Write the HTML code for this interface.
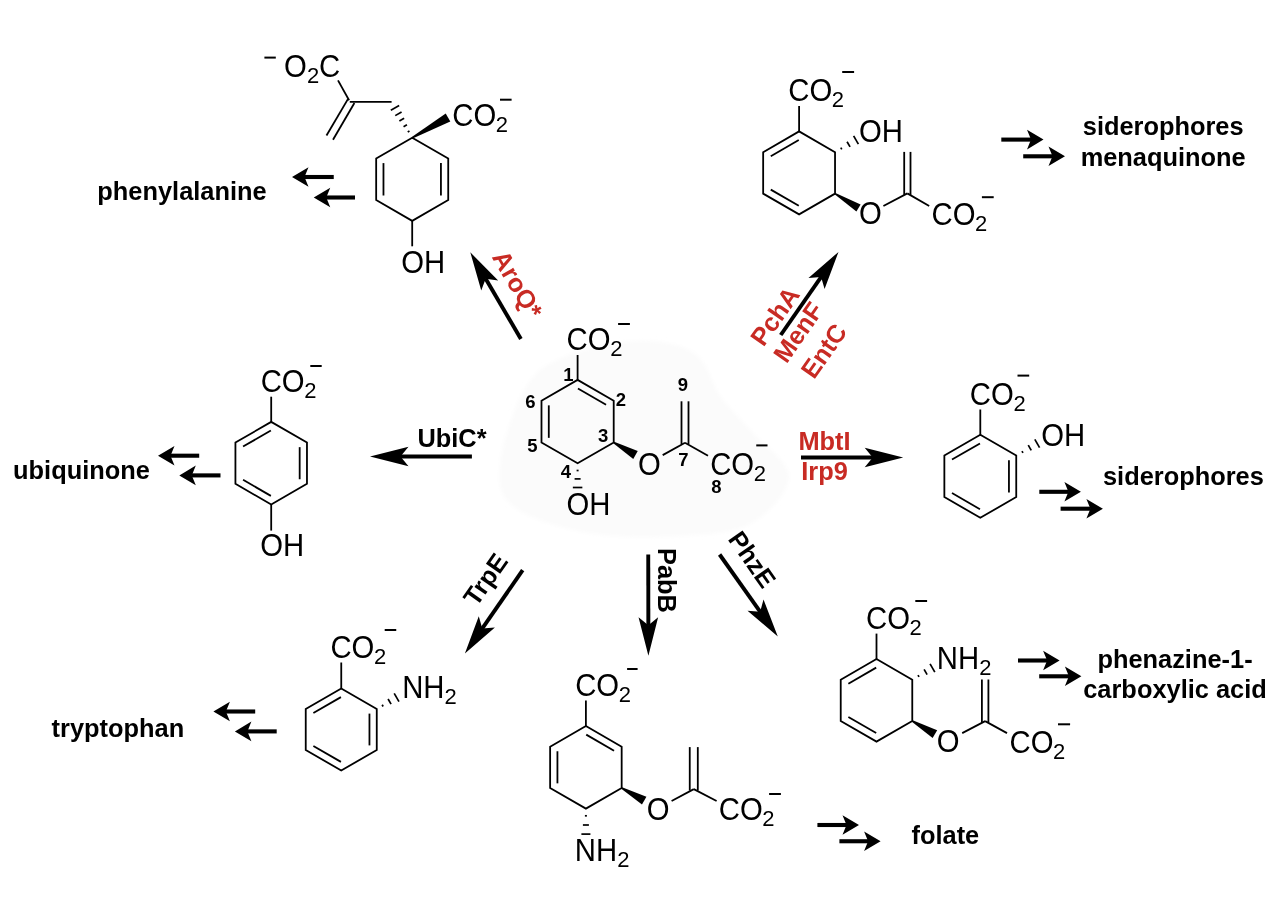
<!DOCTYPE html>
<html><head><meta charset="utf-8"><style>
html,body{margin:0;padding:0;background:#fff;}
svg{display:block;font-family:"Liberation Sans",sans-serif;will-change:transform;}
</style></head><body>
<svg width="1280" height="914" viewBox="0 0 1280 914">
<defs><filter id="bl" x="-30%" y="-30%" width="160%" height="160%"><feGaussianBlur stdDeviation="2"/></filter></defs>
<rect width="1280" height="914" fill="#fff"/>
<path d="M635,341 C657.5,340 679.67,343.67 694,353 C708.33,362.33 711.17,383.67 721,397 C730.83,410.33 741.67,419.67 753,433 C764.33,446.33 789.5,461.83 789,477 C788.5,492.17 768.67,514.17 750,524 C731.33,533.83 704,534.5 677,536 C650,537.5 615.17,537.83 588,533 C560.83,528.17 528.67,518.33 514,507 C499.33,495.67 498.5,484.17 500,465 C501.5,445.83 513.17,409.67 523,392 C532.83,374.33 540.33,367.5 559,359 C577.67,350.5 612.5,342 635,341Z" fill="#fbfbfb" filter="url(#bl)"/>
<path d="M577.6,379.9 L613.71,400.75 L613.71,442.45 L577.6,463.3 L541.49,442.45 L541.49,400.75 Z" fill="none" stroke="#000" stroke-width="1.8" stroke-linejoin="miter"/>
<line x1="577.93" y1="388.52" x2="606.08" y2="404.77" stroke="#000" stroke-width="1.8" stroke-linecap="butt"/>
<line x1="548.79" y1="437.85" x2="548.79" y2="405.35" stroke="#000" stroke-width="1.8" stroke-linecap="butt"/>
<line x1="577.6" y1="379.9" x2="577.6" y2="355" stroke="#000" stroke-width="1.8" stroke-linecap="butt"/>
<text transform="translate(566.61 350.3) scale(1 1.07)" font-size="29.3" fill="#000">CO</text>
<text x="610.17" y="356.3" font-size="22" fill="#000">2</text>
<line x1="618.1" y1="324" x2="629.9" y2="324" stroke="#000" stroke-width="2" stroke-linecap="butt"/>
<text x="563.26" y="380.5" font-size="18.5" font-weight="bold" fill="#000">1</text>
<text x="615.76" y="405.5" font-size="18.5" font-weight="bold" fill="#000">2</text>
<text x="598.06" y="441.5" font-size="18.5" font-weight="bold" fill="#000">3</text>
<text x="560.66" y="477.6" font-size="18.5" font-weight="bold" fill="#000">4</text>
<text x="527.16" y="452" font-size="18.5" font-weight="bold" fill="#000">5</text>
<text x="525.16" y="408.1" font-size="18.5" font-weight="bold" fill="#000">6</text>
<text x="678.26" y="466" font-size="18.5" font-weight="bold" fill="#000">7</text>
<text x="711.26" y="492.5" font-size="18.5" font-weight="bold" fill="#000">8</text>
<text x="677.66" y="391" font-size="18.5" font-weight="bold" fill="#000">9</text>
<polygon points="613.31,443.14 633.25,458.9 637.75,451.1 614.11,441.76" fill="#000"/>
<text transform="translate(638.08 474.5) scale(1 1.07)" font-size="29.3" fill="#000">O</text>
<line x1="662.7" y1="455.1" x2="685" y2="442.7" stroke="#000" stroke-width="1.8" stroke-linecap="butt"/>
<line x1="681.5" y1="444" x2="681.5" y2="401.3" stroke="#000" stroke-width="1.8" stroke-linecap="butt"/>
<line x1="688.5" y1="444" x2="688.5" y2="401.3" stroke="#000" stroke-width="1.8" stroke-linecap="butt"/>
<line x1="685" y1="442.7" x2="708" y2="455.8" stroke="#000" stroke-width="1.8" stroke-linecap="butt"/>
<text transform="translate(710.13 474.6) scale(1 1.07)" font-size="29.3" fill="#000">CO</text>
<text x="753.7" y="480.6" font-size="22" fill="#000">2</text>
<line x1="756.25" y1="445.4" x2="767.5" y2="445.4" stroke="#000" stroke-width="2" stroke-linecap="butt"/>
<line x1="576.6" y1="470.5" x2="578.6" y2="470.5" stroke="#000" stroke-width="1.7" stroke-linecap="butt"/>
<line x1="574.6" y1="478.9" x2="580.6" y2="478.9" stroke="#000" stroke-width="1.7" stroke-linecap="butt"/>
<line x1="572.85" y1="487.5" x2="582.35" y2="487.5" stroke="#000" stroke-width="1.7" stroke-linecap="butt"/>
<text transform="translate(566.58 515.3) scale(1 1.07)" font-size="29.3" fill="#000">OH</text>
<path d="M412.2,137.7 L448.23,158.5 L448.23,200.1 L412.2,220.9 L376.17,200.1 L376.17,158.5 Z" fill="none" stroke="#000" stroke-width="1.8" stroke-linejoin="miter"/>
<line x1="440.93" y1="163.1" x2="440.93" y2="195.5" stroke="#000" stroke-width="1.8" stroke-linecap="butt"/>
<line x1="383.47" y1="195.5" x2="383.47" y2="163.1" stroke="#000" stroke-width="1.8" stroke-linecap="butt"/>
<line x1="412.2" y1="220.9" x2="412.2" y2="246.3" stroke="#000" stroke-width="1.8" stroke-linecap="butt"/>
<text transform="translate(401.28 272.6) scale(1 1.07)" font-size="29.3" fill="#000">OH</text>
<polygon points="412.59,138.4 450.29,121.5 445.71,113.4 411.81,137" fill="#000"/>
<text transform="translate(452.29 125.5) scale(1 1.07)" font-size="29.3" fill="#000">CO</text>
<text x="495.85" y="131.5" font-size="22" fill="#000">2</text>
<line x1="500" y1="99.7" x2="511.6" y2="99.7" stroke="#000" stroke-width="2" stroke-linecap="butt"/>
<line x1="409.47" y1="130.96" x2="407.73" y2="131.96" stroke="#000" stroke-width="1.7" stroke-linecap="butt"/>
<line x1="406.94" y1="124.69" x2="403.56" y2="126.64" stroke="#000" stroke-width="1.7" stroke-linecap="butt"/>
<line x1="404.13" y1="118.23" x2="399.37" y2="120.98" stroke="#000" stroke-width="1.7" stroke-linecap="butt"/>
<line x1="401.56" y1="111.97" x2="395.24" y2="115.62" stroke="#000" stroke-width="1.7" stroke-linecap="butt"/>
<line x1="399.16" y1="105.51" x2="390.84" y2="110.31" stroke="#000" stroke-width="1.7" stroke-linecap="butt"/>
<line x1="391.6" y1="101.8" x2="349.8" y2="101.8" stroke="#000" stroke-width="1.8" stroke-linecap="butt"/>
<line x1="349.1" y1="100.3" x2="338" y2="80.4" stroke="#000" stroke-width="1.8" stroke-linecap="butt"/>
<line x1="347.9" y1="99.1" x2="326.5" y2="135.5" stroke="#000" stroke-width="1.8" stroke-linecap="butt"/>
<line x1="354.4" y1="103" x2="333" y2="139.7" stroke="#000" stroke-width="1.8" stroke-linecap="butt"/>
<text transform="translate(284.08 77.4) scale(1 1.07)" font-size="29.3" fill="#000">O</text>
<text x="306.88" y="83.4" font-size="22" fill="#000">2</text>
<text transform="translate(319.11 77.4) scale(1 1.07)" font-size="29.3" fill="#000">C</text>
<line x1="264.4" y1="57.6" x2="275.8" y2="57.6" stroke="#000" stroke-width="2" stroke-linecap="butt"/>
<text x="97.35" y="199.7" font-size="25.4" font-weight="bold" fill="#000">phenylalanine</text>
<line x1="333.75" y1="177" x2="304" y2="177" stroke="#000" stroke-width="4.1" stroke-linecap="butt"/>
<polygon points="292,177 308.5,167.2 304.5,177 308.5,186.8" fill="#000"/>
<line x1="355" y1="197.5" x2="325.75" y2="197.5" stroke="#000" stroke-width="4.1" stroke-linecap="butt"/>
<polygon points="313.75,197.5 330.25,187.7 326.25,197.5 330.25,207.3" fill="#000"/>
<line x1="520.9" y1="339" x2="485.42" y2="278.21" stroke="#000" stroke-width="3.9" stroke-linecap="butt"/>
<polygon points="470.3,252.3 498.17,280.61 485.67,278.64 481.24,290.49" fill="#000"/>
<text x="517.8" y="284.2" dy="0.36em" font-size="25.4" font-weight="bold" fill="#c82b24" text-anchor="middle" transform="rotate(60 517.8 284.2)">AroQ*</text>
<path d="M799.1,131.4 L835.04,152.15 L835.04,193.65 L799.1,214.4 L763.16,193.65 L763.16,152.15 Z" fill="none" stroke="#000" stroke-width="1.8" stroke-linejoin="miter"/>
<line x1="770.79" y1="156.17" x2="798.77" y2="140.02" stroke="#000" stroke-width="1.8" stroke-linecap="butt"/>
<line x1="798.77" y1="205.78" x2="770.79" y2="189.63" stroke="#000" stroke-width="1.8" stroke-linecap="butt"/>
<line x1="799.1" y1="131.4" x2="799.1" y2="106.1" stroke="#000" stroke-width="1.8" stroke-linecap="butt"/>
<text transform="translate(788.24 100.95) scale(1 1.07)" font-size="29.3" fill="#000">CO</text>
<text x="831.8" y="106.95" font-size="22" fill="#000">2</text>
<line x1="842.2" y1="72" x2="854.1" y2="72" stroke="#000" stroke-width="2" stroke-linecap="butt"/>
<line x1="841.78" y1="149.42" x2="840.78" y2="147.68" stroke="#000" stroke-width="1.7" stroke-linecap="butt"/>
<line x1="850.05" y1="146.95" x2="847.05" y2="141.75" stroke="#000" stroke-width="1.7" stroke-linecap="butt"/>
<line x1="858.37" y1="144.16" x2="853.62" y2="135.94" stroke="#000" stroke-width="1.7" stroke-linecap="butt"/>
<text transform="translate(858.88 142) scale(1 1.07)" font-size="29.3" fill="#000">OH</text>
<polygon points="834.62,194.33 856.41,211.41 860.59,204.59 835.46,192.97" fill="#000"/>
<text transform="translate(858.88 224.1) scale(1 1.07)" font-size="29.3" fill="#000">O</text>
<line x1="883.4" y1="206" x2="907.35" y2="193.4" stroke="#000" stroke-width="1.8" stroke-linecap="butt"/>
<line x1="904.2" y1="194.8" x2="904.2" y2="151.9" stroke="#000" stroke-width="1.8" stroke-linecap="butt"/>
<line x1="910.5" y1="194.8" x2="910.5" y2="151.9" stroke="#000" stroke-width="1.8" stroke-linecap="butt"/>
<line x1="907.35" y1="193.4" x2="929.2" y2="206" stroke="#000" stroke-width="1.8" stroke-linecap="butt"/>
<text transform="translate(931.53 225.3) scale(1 1.07)" font-size="29.3" fill="#000">CO</text>
<text x="975.1" y="231.3" font-size="22" fill="#000">2</text>
<line x1="981.9" y1="197.2" x2="993.7" y2="197.2" stroke="#000" stroke-width="2" stroke-linecap="butt"/>
<text x="1163.2" y="135" font-size="25.4" font-weight="bold" fill="#000" text-anchor="middle">siderophores</text>
<text x="1163.2" y="165.6" font-size="25.4" font-weight="bold" fill="#000" text-anchor="middle">menaquinone</text>
<line x1="1001.3" y1="139.6" x2="1031.5" y2="139.6" stroke="#000" stroke-width="4.1" stroke-linecap="butt"/>
<polygon points="1043.5,139.6 1027,149.4 1031,139.6 1027,129.8" fill="#000"/>
<line x1="1023.2" y1="156.3" x2="1053" y2="156.3" stroke="#000" stroke-width="4.1" stroke-linecap="butt"/>
<polygon points="1065,156.3 1048.5,166.1 1052.5,156.3 1048.5,146.5" fill="#000"/>
<line x1="780.75" y1="335" x2="821.38" y2="276.54" stroke="#000" stroke-width="3.9" stroke-linecap="butt"/>
<polygon points="838.5,251.9 824.58,289.11 821.09,276.95 808.48,277.92" fill="#000"/>
<text x="774.6" y="316" dy="0.36em" font-size="25.4" font-weight="bold" fill="#c82b24" text-anchor="middle" transform="rotate(-55 774.6 316)">PchA</text>
<text x="798" y="332" dy="0.36em" font-size="25.4" font-weight="bold" fill="#c82b24" text-anchor="middle" transform="rotate(-55 798 332)">MenF</text>
<text x="823.6" y="350.75" dy="0.36em" font-size="25.4" font-weight="bold" fill="#c82b24" text-anchor="middle" transform="rotate(-55 823.6 350.75)">EntC</text>
<path d="M271.2,421.9 L306.97,442.55 L306.97,483.85 L271.2,504.5 L235.43,483.85 L235.43,442.55 Z" fill="none" stroke="#000" stroke-width="1.8" stroke-linejoin="miter"/>
<line x1="243.07" y1="446.57" x2="270.87" y2="430.52" stroke="#000" stroke-width="1.8" stroke-linecap="butt"/>
<line x1="299.67" y1="447.15" x2="299.67" y2="479.25" stroke="#000" stroke-width="1.8" stroke-linecap="butt"/>
<line x1="270.87" y1="495.88" x2="243.07" y2="479.83" stroke="#000" stroke-width="1.8" stroke-linecap="butt"/>
<line x1="271.2" y1="421.9" x2="271.2" y2="396.7" stroke="#000" stroke-width="1.8" stroke-linecap="butt"/>
<text transform="translate(260.64 391.9) scale(1 1.07)" font-size="29.3" fill="#000">CO</text>
<text x="304.2" y="397.9" font-size="22" fill="#000">2</text>
<line x1="310.3" y1="366" x2="321.7" y2="366" stroke="#000" stroke-width="2" stroke-linecap="butt"/>
<line x1="271.2" y1="504.5" x2="271.2" y2="530.6" stroke="#000" stroke-width="1.8" stroke-linecap="butt"/>
<text transform="translate(260.28 556.3) scale(1 1.07)" font-size="29.3" fill="#000">OH</text>
<text x="417.48" y="446.5" font-size="25.4" font-weight="bold" fill="#000">UbiC*</text>
<line x1="471.9" y1="456.5" x2="400" y2="456.5" stroke="#000" stroke-width="3.9" stroke-linecap="butt"/>
<polygon points="370,456.5 408.5,446.7 400.5,456.5 408.5,466.3" fill="#000"/>
<text x="13.08" y="479.3" font-size="25.4" font-weight="bold" fill="#000">ubiquinone</text>
<line x1="199.2" y1="455.7" x2="170" y2="455.7" stroke="#000" stroke-width="4.1" stroke-linecap="butt"/>
<polygon points="158,455.7 174.5,445.9 170.5,455.7 174.5,465.5" fill="#000"/>
<line x1="220.5" y1="475.4" x2="191.3" y2="475.4" stroke="#000" stroke-width="4.1" stroke-linecap="butt"/>
<polygon points="179.3,475.4 195.8,465.6 191.8,475.4 195.8,485.2" fill="#000"/>
<path d="M980.3,434.8 L1016.24,455.55 L1016.24,497.05 L980.3,517.8 L944.36,497.05 L944.36,455.55 Z" fill="none" stroke="#000" stroke-width="1.8" stroke-linejoin="miter"/>
<line x1="951.99" y1="459.57" x2="979.97" y2="443.42" stroke="#000" stroke-width="1.8" stroke-linecap="butt"/>
<line x1="1008.94" y1="460.15" x2="1008.94" y2="492.45" stroke="#000" stroke-width="1.8" stroke-linecap="butt"/>
<line x1="979.97" y1="509.18" x2="951.99" y2="493.03" stroke="#000" stroke-width="1.8" stroke-linecap="butt"/>
<line x1="980.3" y1="434.8" x2="980.3" y2="409.5" stroke="#000" stroke-width="1.8" stroke-linecap="butt"/>
<text transform="translate(969.83 404.5) scale(1 1.07)" font-size="29.3" fill="#000">CO</text>
<text x="1013.4" y="410.5" font-size="22" fill="#000">2</text>
<line x1="1017.5" y1="375.6" x2="1029.2" y2="375.6" stroke="#000" stroke-width="2" stroke-linecap="butt"/>
<line x1="1022.98" y1="452.82" x2="1021.98" y2="451.08" stroke="#000" stroke-width="1.7" stroke-linecap="butt"/>
<line x1="1031.25" y1="450.35" x2="1028.25" y2="445.15" stroke="#000" stroke-width="1.7" stroke-linecap="butt"/>
<line x1="1039.57" y1="447.56" x2="1034.82" y2="439.34" stroke="#000" stroke-width="1.7" stroke-linecap="butt"/>
<text transform="translate(1041.18 446) scale(1 1.07)" font-size="29.3" fill="#000">OH</text>
<text x="798.45" y="449.5" font-size="25.4" font-weight="bold" fill="#c82b24">MbtI</text>
<text x="801.25" y="479.5" font-size="25.4" font-weight="bold" fill="#c82b24">Irp9</text>
<line x1="801" y1="457.5" x2="873.2" y2="457.5" stroke="#000" stroke-width="3.9" stroke-linecap="butt"/>
<polygon points="903.2,457.5 864.7,467.3 872.7,457.5 864.7,447.7" fill="#000"/>
<line x1="1039.3" y1="491.8" x2="1068.9" y2="491.8" stroke="#000" stroke-width="4.1" stroke-linecap="butt"/>
<polygon points="1080.9,491.8 1064.4,501.6 1068.4,491.8 1064.4,482" fill="#000"/>
<line x1="1060.6" y1="508.7" x2="1090.9" y2="508.7" stroke="#000" stroke-width="4.1" stroke-linecap="butt"/>
<polygon points="1102.9,508.7 1086.4,518.5 1090.4,508.7 1086.4,498.9" fill="#000"/>
<text x="1103.01" y="484.7" font-size="25.4" font-weight="bold" fill="#000">siderophores</text>
<path d="M341.25,688.5 L376.76,709 L376.76,750 L341.25,770.5 L305.74,750 L305.74,709 Z" fill="none" stroke="#000" stroke-width="1.8" stroke-linejoin="miter"/>
<line x1="313.38" y1="713.02" x2="340.92" y2="697.12" stroke="#000" stroke-width="1.8" stroke-linecap="butt"/>
<line x1="369.46" y1="713.6" x2="369.46" y2="745.4" stroke="#000" stroke-width="1.8" stroke-linecap="butt"/>
<line x1="340.92" y1="761.88" x2="313.38" y2="745.98" stroke="#000" stroke-width="1.8" stroke-linecap="butt"/>
<line x1="341.25" y1="688.5" x2="341.25" y2="662.5" stroke="#000" stroke-width="1.8" stroke-linecap="butt"/>
<text transform="translate(330.44 657.7) scale(1 1.07)" font-size="29.3" fill="#000">CO</text>
<text x="374" y="663.7" font-size="22" fill="#000">2</text>
<line x1="384.7" y1="630" x2="396.25" y2="630" stroke="#000" stroke-width="2" stroke-linecap="butt"/>
<line x1="383.15" y1="706.47" x2="382.15" y2="704.73" stroke="#000" stroke-width="1.7" stroke-linecap="butt"/>
<line x1="391.07" y1="704.2" x2="388.07" y2="699" stroke="#000" stroke-width="1.7" stroke-linecap="butt"/>
<line x1="398.96" y1="701.66" x2="394.21" y2="693.44" stroke="#000" stroke-width="1.7" stroke-linecap="butt"/>
<text transform="translate(402.16 698) scale(1 1.07)" font-size="29.3" fill="#000">NH</text>
<text x="444.47" y="704.1" font-size="22" fill="#000">2</text>
<line x1="522.7" y1="570.2" x2="481.99" y2="628.94" stroke="#000" stroke-width="3.9" stroke-linecap="butt"/>
<polygon points="464.9,653.6 478.78,616.37 482.27,628.53 494.89,627.54" fill="#000"/>
<text x="485.2" y="579.2" dy="0.36em" font-size="25.4" font-weight="bold" fill="#000" text-anchor="middle" transform="rotate(-55 485.2 579.2)">TrpE</text>
<line x1="255.2" y1="711.5" x2="225.4" y2="711.5" stroke="#000" stroke-width="4.1" stroke-linecap="butt"/>
<polygon points="213.4,711.5 229.9,701.7 225.9,711.5 229.9,721.3" fill="#000"/>
<line x1="276.7" y1="731.4" x2="246.9" y2="731.4" stroke="#000" stroke-width="4.1" stroke-linecap="butt"/>
<polygon points="234.9,731.4 251.4,721.6 247.4,731.4 251.4,741.2" fill="#000"/>
<text x="51.59" y="736.9" font-size="25.4" font-weight="bold" fill="#000">tryptophan</text>
<path d="M585.9,726 L621.67,746.65 L621.67,787.95 L585.9,808.6 L550.13,787.95 L550.13,746.65 Z" fill="none" stroke="#000" stroke-width="1.8" stroke-linejoin="miter"/>
<line x1="586.23" y1="734.62" x2="614.03" y2="750.67" stroke="#000" stroke-width="1.8" stroke-linecap="butt"/>
<line x1="557.43" y1="783.35" x2="557.43" y2="751.25" stroke="#000" stroke-width="1.8" stroke-linecap="butt"/>
<line x1="585.9" y1="726" x2="585.9" y2="700.5" stroke="#000" stroke-width="1.8" stroke-linecap="butt"/>
<text transform="translate(575.13 696.1) scale(1 1.07)" font-size="29.3" fill="#000">CO</text>
<text x="618.7" y="702.1" font-size="22" fill="#000">2</text>
<line x1="627.1" y1="669" x2="637.6" y2="669" stroke="#000" stroke-width="2" stroke-linecap="butt"/>
<polygon points="621.27,788.65 641.98,804.62 646.42,796.78 622.06,787.25" fill="#000"/>
<text transform="translate(646.78 820.2) scale(1 1.07)" font-size="29.3" fill="#000">O</text>
<line x1="671.6" y1="801" x2="693.8" y2="789.1" stroke="#000" stroke-width="1.8" stroke-linecap="butt"/>
<line x1="689.75" y1="790.5" x2="689.75" y2="747.1" stroke="#000" stroke-width="1.8" stroke-linecap="butt"/>
<line x1="697.8" y1="790.5" x2="697.8" y2="747.1" stroke="#000" stroke-width="1.8" stroke-linecap="butt"/>
<line x1="693.8" y1="789.1" x2="716.6" y2="801" stroke="#000" stroke-width="1.8" stroke-linecap="butt"/>
<text transform="translate(718.74 819.9) scale(1 1.07)" font-size="29.3" fill="#000">CO</text>
<text x="762.3" y="825.9" font-size="22" fill="#000">2</text>
<line x1="769.1" y1="794" x2="780.9" y2="794" stroke="#000" stroke-width="2" stroke-linecap="butt"/>
<line x1="584.9" y1="815.8" x2="586.9" y2="815.8" stroke="#000" stroke-width="1.7" stroke-linecap="butt"/>
<line x1="582.9" y1="825" x2="588.9" y2="825" stroke="#000" stroke-width="1.7" stroke-linecap="butt"/>
<line x1="581.4" y1="834.1" x2="590.4" y2="834.1" stroke="#000" stroke-width="1.7" stroke-linecap="butt"/>
<text transform="translate(574.86 861) scale(1 1.07)" font-size="29.3" fill="#000">NH</text>
<text x="617.17" y="867.1" font-size="22" fill="#000">2</text>
<line x1="648.25" y1="554.5" x2="648.36" y2="625.8" stroke="#000" stroke-width="3.9" stroke-linecap="butt"/>
<polygon points="648.4,655.8 638.54,617.31 648.35,625.3 658.14,617.29" fill="#000"/>
<text x="667.5" y="580.5" dy="0.36em" font-size="25.4" font-weight="bold" fill="#000" text-anchor="middle" transform="rotate(90 667.5 580.5)">PabB</text>
<line x1="817.4" y1="825" x2="847" y2="825" stroke="#000" stroke-width="4.1" stroke-linecap="butt"/>
<polygon points="859,825 842.5,834.8 846.5,825 842.5,815.2" fill="#000"/>
<line x1="839.4" y1="841.25" x2="868.6" y2="841.25" stroke="#000" stroke-width="4.1" stroke-linecap="butt"/>
<polygon points="880.6,841.25 864.1,851.05 868.1,841.25 864.1,831.45" fill="#000"/>
<text x="911.52" y="843.6" font-size="25.4" font-weight="bold" fill="#000">folate</text>
<path d="M876.5,659 L912.27,679.65 L912.27,720.95 L876.5,741.6 L840.73,720.95 L840.73,679.65 Z" fill="none" stroke="#000" stroke-width="1.8" stroke-linejoin="miter"/>
<line x1="848.37" y1="683.67" x2="876.17" y2="667.62" stroke="#000" stroke-width="1.8" stroke-linecap="butt"/>
<line x1="876.17" y1="732.98" x2="848.37" y2="716.93" stroke="#000" stroke-width="1.8" stroke-linecap="butt"/>
<line x1="876.5" y1="659" x2="876.5" y2="633.6" stroke="#000" stroke-width="1.8" stroke-linecap="butt"/>
<text transform="translate(866.03 628.6) scale(1 1.07)" font-size="29.3" fill="#000">CO</text>
<text x="909.6" y="634.6" font-size="22" fill="#000">2</text>
<line x1="915.3" y1="601" x2="927.1" y2="601" stroke="#000" stroke-width="2" stroke-linecap="butt"/>
<line x1="919" y1="676.92" x2="918" y2="675.18" stroke="#000" stroke-width="1.7" stroke-linecap="butt"/>
<line x1="927.1" y1="674.55" x2="924.1" y2="669.35" stroke="#000" stroke-width="1.7" stroke-linecap="butt"/>
<line x1="934.82" y1="672.11" x2="930.07" y2="663.89" stroke="#000" stroke-width="1.7" stroke-linecap="butt"/>
<text transform="translate(936.86 669.1) scale(1 1.07)" font-size="29.3" fill="#000">NH</text>
<text x="979.17" y="675.2" font-size="22" fill="#000">2</text>
<polygon points="911.86,721.64 932.63,738.08 937.17,730.32 912.67,720.26" fill="#000"/>
<text transform="translate(936.78 752.2) scale(1 1.07)" font-size="29.3" fill="#000">O</text>
<line x1="962.2" y1="733.1" x2="985.15" y2="721.1" stroke="#000" stroke-width="1.8" stroke-linecap="butt"/>
<line x1="981.9" y1="722.5" x2="981.9" y2="679.5" stroke="#000" stroke-width="1.8" stroke-linecap="butt"/>
<line x1="988.4" y1="722.5" x2="988.4" y2="679.5" stroke="#000" stroke-width="1.8" stroke-linecap="butt"/>
<line x1="985.15" y1="721.1" x2="1007" y2="733.1" stroke="#000" stroke-width="1.8" stroke-linecap="butt"/>
<text transform="translate(1009.53 752.65) scale(1 1.07)" font-size="29.3" fill="#000">CO</text>
<text x="1053.1" y="758.65" font-size="22" fill="#000">2</text>
<line x1="1058" y1="724.3" x2="1070.1" y2="724.3" stroke="#000" stroke-width="2" stroke-linecap="butt"/>
<line x1="719.6" y1="554.5" x2="760.44" y2="612.04" stroke="#000" stroke-width="3.9" stroke-linecap="butt"/>
<polygon points="777.8,636.5 747.52,610.78 760.15,611.63 763.51,599.43" fill="#000"/>
<text x="752.5" y="559.1" dy="0.36em" font-size="25.4" font-weight="bold" fill="#000" text-anchor="middle" transform="rotate(55 752.5 559.1)">PhzE</text>
<line x1="1018" y1="660.5" x2="1047.6" y2="660.5" stroke="#000" stroke-width="4.1" stroke-linecap="butt"/>
<polygon points="1059.6,660.5 1043.1,670.3 1047.1,660.5 1043.1,650.7" fill="#000"/>
<line x1="1039.2" y1="676.3" x2="1069.4" y2="676.3" stroke="#000" stroke-width="4.1" stroke-linecap="butt"/>
<polygon points="1081.4,676.3 1064.9,686.1 1068.9,676.3 1064.9,666.5" fill="#000"/>
<text x="1175" y="667.5" font-size="25.4" font-weight="bold" fill="#000" text-anchor="middle">phenazine-1-</text>
<text x="1175" y="698" font-size="25.4" font-weight="bold" fill="#000" text-anchor="middle">carboxylic acid</text>
</svg>
</body></html>
